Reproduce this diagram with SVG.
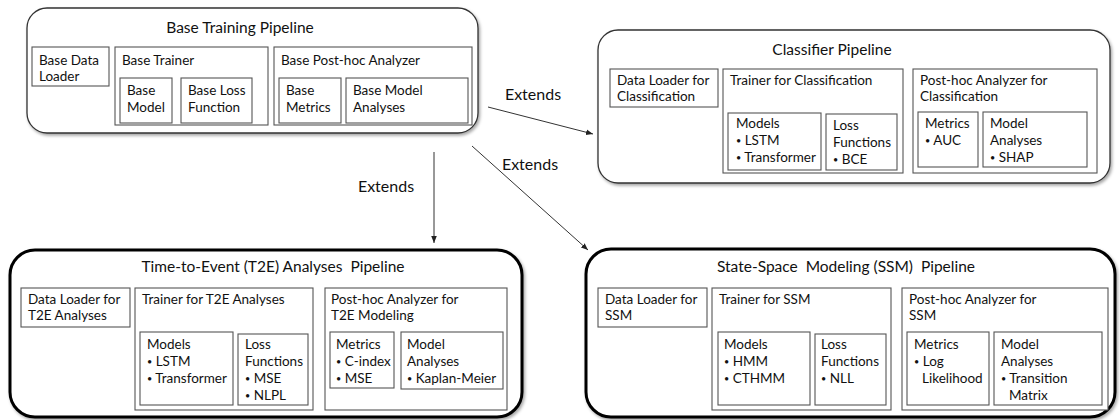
<svg xmlns="http://www.w3.org/2000/svg" width="1120" height="420" viewBox="0 0 1120 420">
<defs>
<style>
text{font-family:Lato,"Liberation Sans",sans-serif;fill:#111;}
.t{font-size:13.5px;}
.b{font-size:9px;}
.title{font-size:15.5px;text-anchor:middle;}
.lbl{font-size:16px;text-anchor:middle;}
.outer{fill:#fff;stroke:#333;stroke-width:1.3;filter:url(#sh);}
.outerB{fill:#fff;stroke:#000;stroke-width:3;filter:url(#sh);}
.box{fill:#fff;stroke:#555;stroke-width:1.1;}
.conn{stroke:#333;stroke-width:1;fill:none;marker-end:url(#ah);}
</style>
<filter id="sh" x="-5%" y="-5%" width="110%" height="115%">
<feDropShadow dx="1.5" dy="2" stdDeviation="1.5" flood-color="#000" flood-opacity="0.35"/>
</filter>
<marker id="ah" viewBox="0 0 10 10" refX="10" refY="5" markerWidth="7" markerHeight="7" orient="auto" markerUnits="userSpaceOnUse">
<path d="M0,1 L10,5 L0,9 z" fill="#222"/>
</marker>
</defs>

<g id="connectors">
<line class="conn" x1="488" y1="107" x2="593" y2="134"/>
<line class="conn" x1="434" y1="152" x2="434" y2="243"/>
<line class="conn" x1="472" y1="146" x2="588" y2="250"/>
<text class="lbl" x="533" y="100">Extends</text>
<text class="lbl" x="386" y="192">Extends</text>
<text class="lbl" x="530" y="170">Extends</text>
</g>

<g id="base">
<rect class="outer" x="27" y="8" width="451" height="125" rx="20"/>
<text class="title" x="240" y="33">Base Training Pipeline</text>
<g id="base-loader"><rect class="box" x="32" y="47" width="77" height="39"/>
<text class="t" x="39" y="65">Base Data</text><text class="t" x="39" y="81">Loader</text></g>
<g id="base-trainer"><rect class="box" x="115" y="47" width="153" height="78"/>
<text class="t" x="122" y="65">Base Trainer</text>
<rect class="box" x="120" y="78" width="52" height="45"/>
<text class="t" x="127" y="95">Base</text><text class="t" x="127" y="112">Model</text>
<rect class="box" x="181" y="78" width="71" height="45"/>
<text class="t" x="188" y="95">Base Loss</text><text class="t" x="188" y="112">Function</text></g>
<g id="base-analyzer"><rect class="box" x="274" y="47" width="198" height="78"/>
<text class="t" x="281" y="65">Base Post-hoc Analyzer</text>
<rect class="box" x="279" y="78" width="62" height="45"/>
<text class="t" x="286" y="95">Base</text><text class="t" x="286" y="112">Metrics</text>
<rect class="box" x="346" y="78" width="122" height="45"/>
<text class="t" x="353" y="95">Base Model</text><text class="t" x="353" y="112">Analyses</text></g>
</g>

<g id="classifier">
<rect class="outer" x="598" y="30" width="512" height="153" rx="20"/>
<text class="title" x="832" y="55">Classifier Pipeline</text>
<g id="cls-loader"><rect class="box" x="610" y="69" width="108" height="38"/>
<text class="t" x="617" y="85">Data Loader for</text><text class="t" x="617" y="101">Classification</text></g>
<g id="cls-trainer"><rect class="box" x="723" y="69" width="180" height="104"/>
<text class="t" x="730" y="85">Trainer for Classification</text>
<rect class="box" x="728" y="113" width="93" height="57"/>
<text class="t" x="736" y="128">Models</text>
<text class="t" x="736" y="145"><tspan class="b" dy="-1">•</tspan><tspan dy="1"> LSTM</tspan></text>
<text class="t" x="736" y="162"><tspan class="b" dy="-1">•</tspan><tspan dy="1"> Transformer</tspan></text>
<rect class="box" x="826" y="114" width="71" height="56"/>
<text class="t" x="833" y="130">Loss</text><text class="t" x="833" y="147">Functions</text>
<text class="t" x="833" y="164"><tspan class="b" dy="-1">•</tspan><tspan dy="1"> BCE</tspan></text></g>
<g id="cls-analyzer"><rect class="box" x="913" y="69" width="184" height="104"/>
<text class="t" x="920" y="85">Post-hoc Analyzer for</text><text class="t" x="920" y="101">Classification</text>
<rect class="box" x="918" y="112" width="60" height="55"/>
<text class="t" x="925" y="128">Metrics</text>
<text class="t" x="925" y="145"><tspan class="b" dy="-1">•</tspan><tspan dy="1"> AUC</tspan></text>
<rect class="box" x="983" y="112" width="104" height="55"/>
<text class="t" x="990" y="128">Model</text><text class="t" x="990" y="145">Analyses</text>
<text class="t" x="990" y="162"><tspan class="b" dy="-1">•</tspan><tspan dy="1"> SHAP</tspan></text></g>
</g>

<g id="t2e">
<rect class="outerB" x="10" y="250" width="512" height="167" rx="25"/>
<text class="title" x="273" y="272" xml:space="preserve">Time-to-Event (T2E) Analyses  Pipeline</text>
<g id="t2e-loader"><rect class="box" x="21" y="288" width="109" height="39"/>
<text class="t" x="28" y="304">Data Loader for</text><text class="t" x="28" y="320">T2E Analyses</text></g>
<g id="t2e-trainer"><rect class="box" x="135" y="288" width="178" height="122"/>
<text class="t" x="142" y="304">Trainer for T2E Analyses</text>
<rect class="box" x="140" y="332" width="93" height="73"/>
<text class="t" x="147" y="349">Models</text>
<text class="t" x="147" y="366"><tspan class="b" dy="-1">•</tspan><tspan dy="1"> LSTM</tspan></text>
<text class="t" x="147" y="383"><tspan class="b" dy="-1">•</tspan><tspan dy="1"> Transformer</tspan></text>
<rect class="box" x="238" y="334" width="70" height="71"/>
<text class="t" x="245" y="349">Loss</text><text class="t" x="245" y="366">Functions</text>
<text class="t" x="245" y="383"><tspan class="b" dy="-1">•</tspan><tspan dy="1"> MSE</tspan></text>
<text class="t" x="245" y="400"><tspan class="b" dy="-1">•</tspan><tspan dy="1"> NLPL</tspan></text></g>
<g id="t2e-analyzer"><rect class="box" x="325" y="288" width="182" height="122"/>
<text class="t" x="331" y="304">Post-hoc Analyzer for</text><text class="t" x="331" y="320">T2E Modeling</text>
<rect class="box" x="330" y="332" width="64" height="56"/>
<text class="t" x="336" y="349">Metrics</text>
<text class="t" x="336" y="366"><tspan class="b" dy="-1">•</tspan><tspan dy="1"> C-index</tspan></text>
<text class="t" x="336" y="383"><tspan class="b" dy="-1">•</tspan><tspan dy="1"> MSE</tspan></text>
<rect class="box" x="401" y="332" width="102" height="57"/>
<text class="t" x="407" y="349">Model</text><text class="t" x="407" y="366">Analyses</text>
<text class="t" x="407" y="383"><tspan class="b" dy="-1">•</tspan><tspan dy="1"> Kaplan-Meier</tspan></text></g>
</g>

<g id="ssm">
<rect class="outerB" x="586" y="249" width="529" height="168" rx="25"/>
<text class="title" x="846" y="272" xml:space="preserve">State-Space  Modeling (SSM)  Pipeline</text>
<g id="ssm-loader"><rect class="box" x="598" y="288" width="109" height="39"/>
<text class="t" x="605" y="304">Data Loader for</text><text class="t" x="605" y="320">SSM</text></g>
<g id="ssm-trainer"><rect class="box" x="712" y="288" width="179" height="122"/>
<text class="t" x="719" y="304">Trainer for SSM</text>
<rect class="box" x="718" y="332" width="92" height="73"/>
<text class="t" x="724" y="349">Models</text>
<text class="t" x="724" y="366"><tspan class="b" dy="-1">•</tspan><tspan dy="1"> HMM</tspan></text>
<text class="t" x="724" y="383"><tspan class="b" dy="-1">•</tspan><tspan dy="1"> CTHMM</tspan></text>
<rect class="box" x="815" y="334" width="71" height="71"/>
<text class="t" x="821" y="349">Loss</text><text class="t" x="821" y="366">Functions</text>
<text class="t" x="821" y="383"><tspan class="b" dy="-1">•</tspan><tspan dy="1"> NLL</tspan></text></g>
<g id="ssm-analyzer"><rect class="box" x="902" y="288" width="206" height="122"/>
<text class="t" x="909" y="304">Post-hoc Analyzer for</text><text class="t" x="909" y="320">SSM</text>
<rect class="box" x="907" y="332" width="82" height="73"/>
<text class="t" x="914" y="349">Metrics</text>
<text class="t" x="914" y="366"><tspan class="b" dy="-1">•</tspan><tspan dy="1"> Log</tspan></text>
<text class="t" x="922" y="383">Likelihood</text>
<rect class="box" x="994" y="332" width="108" height="73"/>
<text class="t" x="1001" y="349">Model</text><text class="t" x="1001" y="366">Analyses</text>
<text class="t" x="1001" y="383"><tspan class="b" dy="-1">•</tspan><tspan dy="1"> Transition</tspan></text>
<text class="t" x="1009" y="400">Matrix</text></g>
</g>
</svg>
